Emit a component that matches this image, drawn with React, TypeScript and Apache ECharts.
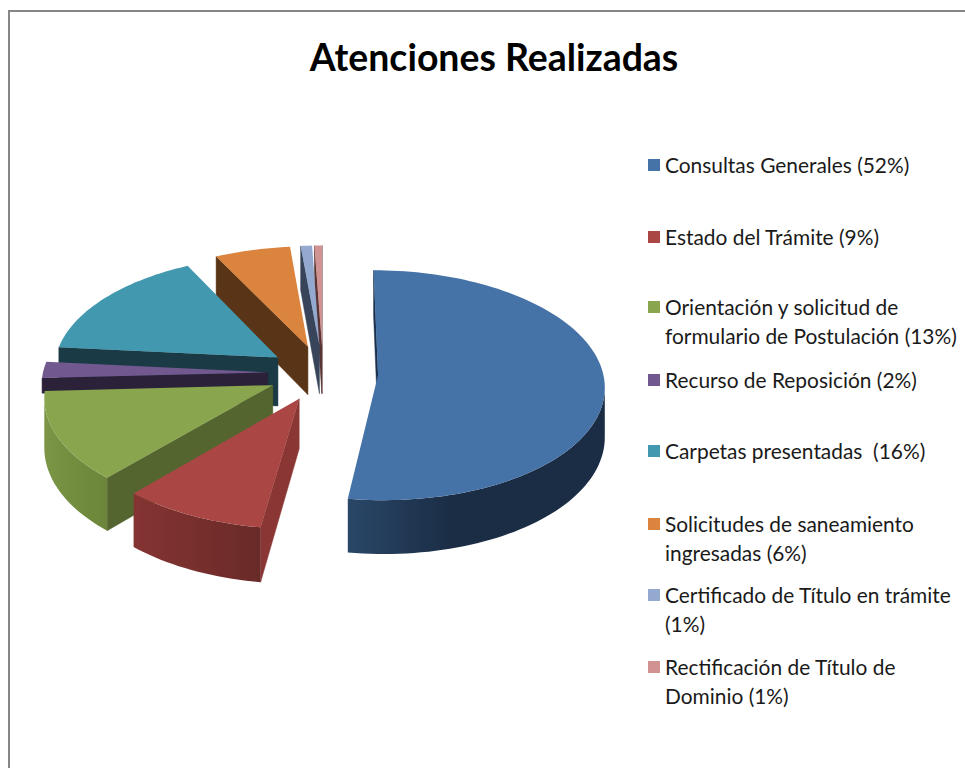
import React, { useEffect, useRef } from "react";
import * as echarts from "echarts";

// --- data ---
const titleText = "Atenciones Realizadas";
const categories = [
  "Consultas Generales (52%)",
  "Estado del Trámite (9%)",
  "Orientación y solicitud de\nformulario de Postulación (13%)",
  "Recurso de Reposición (2%)",
  "Carpetas presentadas  (16%)",
  "Solicitudes de saneamiento\ningresadas (6%)",
  "Certificado de Título en trámite\n(1%)",
  "Rectificación de Título de\nDominio (1%)",
];
const values = [52.3, 9.3, 12.6, 2.3, 16, 6, 0.9, 0.6];

// --- styles ---
const topColors = ["#4572A7", "#AA4643", "#89A54E", "#71588F", "#4198AF", "#DB843D", "#93A9CF", "#D19392"];
const wallColors = ["#1B304C", "#8A3634", "#556530", "#2B2138", "#1A3A45", "#593416", "#38445A", "#5A3534"];
const arcLeftColors = ["#2A4768", "#843432", "#7C9646", "#2B2138", "#1A3A45", "#593416", "#38445A", "#5A3534"];
const arcMidColors = ["#1A2D45", "#7A302E", "#748E40", "#2B2138", "#1A3A45", "#593416", "#38445A", "#5A3534"];
const arcRightColors = ["#1A2D45", "#682A28", "#6C853A", "#2B2138", "#1A3A45", "#593416", "#38445A", "#5A3534"];
const drawOrder = [7, 6, 5, 4, 3, 0, 2, 1];

// --- layout: the pie's projection ---
const CX = 323;
const CY = 373;
const RX = 225;
const RY = 113.7;
const PERSP = 0.0886;
const EXPLODE = 0.245;
const sliceDepths = [49, 49, 49, 15, 49, 49, 49, 49];
const legendTops = [165, 237, 307, 380, 451, 524, 595, 667];
const LEGEND_LINE = 29;

const project = (x: number, y: number, depth: number): number[] => {
  const s = 1 / (1 + PERSP * y);
  return [CX + RX * x * s, CY - RY * y * s + depth * s];
};

const quadArea = (q: number[][]): number => {
  let a = 0;
  for (let i = 0; i < q.length; i++) {
    const p = q[i];
    const n = q[(i + 1) % q.length];
    a += p[0] * n[1] - n[0] * p[1];
  }
  return a;
};

const total = values.reduce((a, b) => a + b, 0);
const starts: number[] = [];
values.reduce((acc, v, i) => {
  starts[i] = acc;
  return acc + v;
}, 0);

const renderSlice = (params: any, api: any) => {
  const i = params.dataIndex;
  const value = api.value(0);
  const t1 = (starts[i] / total) * Math.PI * 2;
  const t2 = t1 + (value / total) * Math.PI * 2;
  const mid = (t1 + t2) / 2;
  const ax = EXPLODE * Math.sin(mid);
  const ay = EXPLODE * Math.cos(mid);
  const order = drawOrder.indexOf(i) * 10;
  const depth = sliceDepths[i];

  const steps = Math.max(4, Math.ceil((t2 - t1) / 0.03));
  const rim: number[][] = [];
  for (let k = 0; k <= steps; k++) {
    const t = t1 + ((t2 - t1) * k) / steps;
    rim.push([ax + Math.sin(t), ay + Math.cos(t)]);
  }
  const top = rim.map((p) => project(p[0], p[1], 0));
  const bottom = rim.map((p) => project(p[0], p[1], depth));
  const apexTop = project(ax, ay, 0);
  const apexBottom = project(ax, ay, depth);

  const children: any[] = [];
  const wallStyle = { fill: wallColors[i], stroke: wallColors[i], lineWidth: 0.5 };

  const startWall = [apexTop, top[0], bottom[0], apexBottom];
  if (quadArea(startWall) < 0) {
    children.push({ type: "polygon", z2: order + 1, shape: { points: startWall }, style: wallStyle });
  }
  const endWall = [apexTop, top[steps], bottom[steps], apexBottom];
  if (quadArea(endWall) > 0) {
    children.push({ type: "polygon", z2: order + 1, shape: { points: endWall }, style: wallStyle });
  }

  const visible: number[] = [];
  for (let k = 0; k < steps; k++) {
    if (quadArea([top[k], top[k + 1], bottom[k + 1], bottom[k]]) < 0) {
      visible.push(k, k + 1);
    }
  }
  if (visible.length) {
    const from = visible[0];
    const to = visible[visible.length - 1];
    const points = [...top.slice(from, to + 1), ...bottom.slice(from, to + 1).reverse()];
    children.push({
      type: "polygon",
      z2: order + 2,
      shape: { points },
      style: {
        fill: new echarts.graphic.LinearGradient(0, 0, 1, 0, [
          { offset: 0, color: arcLeftColors[i] },
          { offset: 0.4, color: arcMidColors[i] },
          { offset: 1, color: arcRightColors[i] },
        ]),
      },
    });
  }

  children.push({
    type: "polygon",
    z2: order + 3,
    shape: { points: [apexTop, ...top] },
    style: { fill: topColors[i] },
  });
  return { type: "group", children };
};

const legendGraphics = categories.flatMap((label, i) => [
  {
    type: "rect",
    shape: { x: 648, y: legendTops[i] - 6, width: 12, height: 12 },
    style: { fill: topColors[i] },
  },
  {
    type: "text",
    x: 665,
    y: legendTops[i] - LEGEND_LINE / 2 - 1,
    style: {
      text: label,
      font: "20.9px Lato, sans-serif",
      lineHeight: LEGEND_LINE,
      fill: "#1a1a1a",
      textVerticalAlign: "top",
    },
  },
]);

export default function App() {
  const ref = useRef<HTMLDivElement>(null);
  useEffect(() => {
    document.body.style.margin = "0";
    document.body.style.overflow = "hidden";
    const chart = echarts.init(ref.current!, undefined, { renderer: "svg" });
    chart.setOption({
      animation: false,
      backgroundColor: "#ffffff",
      title: {
        text: titleText,
        left: 489,
        top: 33,
        textAlign: "center",
        textStyle: { fontFamily: "Lato, sans-serif", fontWeight: "bold", fontSize: 37.4, color: "#000000" },
      },
      series: [
        {
          type: "custom",
          coordinateSystem: "none",
          clip: false,
          renderItem: renderSlice,
          data: values.map((v, i) => ({ name: categories[i], value: [v] })),
        },
      ],
      graphic: [
        {
          type: "polyline",
          shape: { points: [[9, 768], [9, 11], [965, 11]] },
          style: { stroke: "#868686", lineWidth: 2, fill: "none" },
        },
        ...legendGraphics,
      ],
    });
    return () => chart.dispose();
  }, []);
  return <div ref={ref} style={{ width: 965, height: 768 }} />;
}
